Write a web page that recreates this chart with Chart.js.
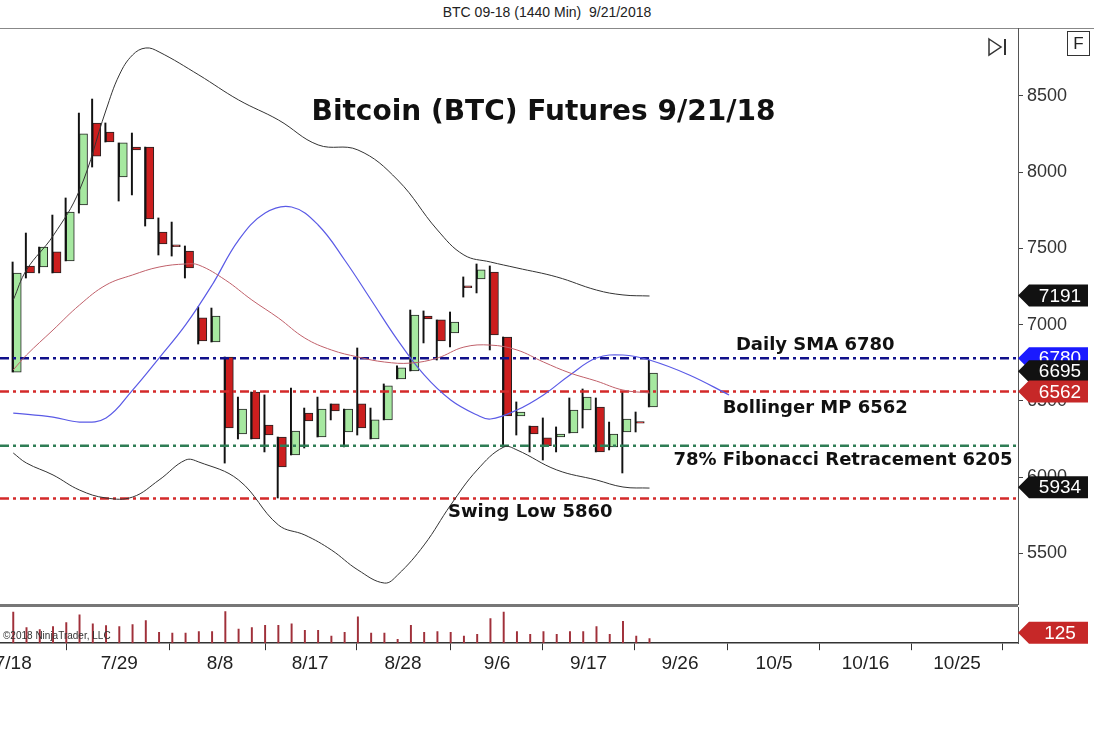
<!DOCTYPE html>
<html>
<head>
<meta charset="utf-8">
<script src="https://cdn.jsdelivr.net/npm/chart.js@4"></script>
<style>
  body { margin: 0; background: #fff; font-family: "Liberation Sans", Arial, sans-serif; }
  #wrap { position: relative; width: 1094px; height: 729px; overflow: hidden; background: #fff; }
  #title { position: absolute; left: 0; top: 4px; width: 1094px; text-align: center; font-size: 14px; color: #222; }
  #topline { position: absolute; left: 0; top: 28px; width: 1094px; height: 1px; background: #888; }
  #sep { position: absolute; left: 0; top: 604px; width: 1018px; height: 3px; background: #777; }
  #fbox { position: absolute; left: 1067px; top: 31px; width: 21px; height: 23px; border: 1px solid #333;
          font-size: 17px; text-align: center; line-height: 23px; color: #222; }
  #priceC { position: absolute; left: 0; top: 28px; }
  #volC { position: absolute; left: 0; top: 605px; }
  #icon { position: absolute; left: 987px; top: 37px; }
</style>
</head>
<body>
<div id="wrap">
  <div id="title">BTC 09-18 (1440 Min)&nbsp; 9/21/2018</div>
  <div id="topline"></div>
  <canvas id="priceC" width="1094" height="577"></canvas>
  <canvas id="volC" width="1094" height="72"></canvas>
  <div id="sep"></div>
  <div id="fbox">F</div>
  <svg id="icon" width="22" height="20"><polygon points="2,2 14,10 2,18" fill="none" stroke="#333" stroke-width="1.5"/><line x1="18" y1="2" x2="18" y2="18" stroke="#333" stroke-width="2"/></svg>
</div>
<script>
// daily candles (bar index 0 = 7/18)
let opens  = [6689,7385,7378,7477,7418,7785,8323,8264,7969,8165,8165,7608,7523,7483,7044,6886,6788,6283,6558,6342,6263,6145,6420,6263,6480,6296,6480,6250,6375,6644,6696,7057,7031,6945,7254,7300,7345,6919,6401,6335,6257,6263,6289,6440,6460,6198,6296,6365,6460];
let highs  = [7411,7601,7509,7719,7831,8388,8480,8323,8192,8257,8165,7700,7673,7516,7116,7109,6788,6525,6558,6539,6263,6584,6453,6525,6480,6447,6847,6453,6611,6730,7096,7090,7031,7083,7313,7398,7385,6919,6493,6335,6388,6329,6519,6578,6519,6361,6558,6427,6768];
let lows   = [6689,7306,7339,7339,7418,7732,8034,8198,7811,7851,7647,7457,7450,7306,6873,6886,6092,6250,6250,6165,5863,6145,6191,6263,6375,6198,6276,6250,6375,6644,6696,6880,6768,6854,7181,7208,6834,6198,6276,6165,6112,6165,6289,6322,6165,6178,6027,6296,6460];
let closes = [7339,7339,7509,7339,7739,8251,8106,8198,8192,8146,7693,7529,7516,7372,6893,7057,6322,6447,6250,6276,6066,6302,6368,6447,6434,6447,6322,6375,6598,6716,7063,7037,6893,7017,7250,7359,6932,6401,6427,6283,6204,6283,6440,6525,6165,6283,6381,6361,6683];
let volumes = [80,40,35,43,53,73,50,45,43,48,58,28,26,26,30,30,81,36,40,46,46,50,33,33,18,28,68,26,26,10,46,28,30,28,18,23,63,80,30,23,30,23,30,30,43,23,56,18,12];

// bollinger bands (bar index, price)
let upperX = [0,1,3,5,7,8,9,10,11,14,17,20,23,26,29,32,34,36,38,41,44,46,48];
let upperY = [7162,7359,7582,7883,8408,8638,8769,8815,8789,8638,8474,8343,8179,8146,7949,7621,7457,7411,7372,7313,7227,7195,7188];
let lowerX = [0,1,3,5,7,9,11,13,14,17,20,22,24,26,28,29,31,33,35,37,38,41,44,46,48];
let lowerY = [6158,6092,6014,5915,5863,5869,5981,6112,6099,5981,5686,5620,5522,5391,5305,5358,5555,5817,6047,6197,6178,6047,5981,5935,5928];
let midX = [0,1,3,5,7,9,11,13,14,16,18,20,22,24,26,28,30,32,34,36,38,40,42,44,46,48];
let midY = [6703,6801,6965,7129,7260,7326,7378,7398,7391,7293,7162,7044,6912,6834,6788,6755,6748,6781,6853,6866,6834,6755,6683,6630,6571,6552];
let blueX = [0,3,5,7,9,11,13,15,17,19,21,23,25,27,29,31,33,35,36,38,40,42,44,46,48,51,54];
let blueY = [6420,6394,6361,6388,6571,6781,6998,7260,7555,7732,7772,7654,7424,7162,6899,6670,6506,6407,6381,6440,6539,6670,6781,6801,6768,6670,6539];

let levels = [6780, 6562, 6205, 5860];
let levelColors = ["#10108a", "#d42a2a", "#2e7d55", "#d42a2a"];

let tickLabels = ["7/18","7/29","8/8","8/17","8/28","9/6","9/17","9/26","10/5","10/16","10/25"];
let tickPos = [0, 8, 15.6, 22.4, 29.4, 36.5, 43.4, 50.3, 57.4, 64.3, 71.2];
let priceTicks = [5500, 6000, 6500, 7000, 7500, 8000, 8500];

let xMin = -1, xMax = 75.8;
let font = "'Liberation Sans', Arial, sans-serif";
let boldFont = "'DejaVu Sans', Arial, sans-serif";

let notes = [
  { text: "Bitcoin (BTC) Futures 9/21/18", x: 40, y: 8390, size: 28 },
  { text: "Daily SMA 6780", x: 60.5, y: 6867, size: 18 },
  { text: "Bollinger MP 6562", x: 60.5, y: 6453, size: 18 },
  { text: "78% Fibonacci Retracement 6205", x: 62.6, y: 6112, size: 18 },
  { text: "Swing Low 5860", x: 39, y: 5771, size: 18 }
];
let flags = [
  { v: 6780, label: "6780", color: "#1a1aff" },
  { v: 6695, label: "6695", color: "#111" },
  { v: 6562, label: "6562", color: "#c62828" },
  { v: 7191, label: "7191", color: "#111" },
  { v: 5934, label: "5934", color: "#111" }
];

function pts(xs, ys) { return xs.map((x, i) => ({ x: x, y: ys[i] })); }

function drawFlag(ctx, x, y, label, color) {
  ctx.save();
  ctx.fillStyle = color;
  ctx.beginPath();
  ctx.moveTo(x, y);
  ctx.lineTo(x + 11, y - 11);
  ctx.lineTo(x + 70, y - 11);
  ctx.lineTo(x + 70, y + 11);
  ctx.lineTo(x + 11, y + 11);
  ctx.closePath();
  ctx.fill();
  ctx.fillStyle = "#fff";
  ctx.font = "19px " + font;
  ctx.textAlign = "center";
  ctx.textBaseline = "middle";
  ctx.fillText(label, x + 42, y + 1);
  ctx.restore();
}

let overlay = {
  id: "overlay",
  afterDraw(chart) {
    let ctx = chart.ctx, xs = chart.scales.x, ys = chart.scales.y;
    ctx.save();
    ctx.fillStyle = "#111";
    ctx.textAlign = "center";
    ctx.textBaseline = "middle";
    notes.forEach(n => {
      ctx.font = "bold " + n.size + "px " + boldFont;
      ctx.fillText(n.text, xs.getPixelForValue(n.x), ys.getPixelForValue(n.y));
    });
    ctx.restore();
    flags.forEach(f => drawFlag(ctx, chart.chartArea.right, ys.getPixelForValue(f.v), f.label, f.color));
  }
};

let bodyColors = opens.map((o, i) => closes[i] >= o ? "#a6e8a0" : "#cc1e1e");
let wicks = opens.map((o, i) => ({ x: i, y: [lows[i], highs[i]] }));
let bodies = opens.map((o, i) => {
  let a = o, b = closes[i];
  if (Math.abs(a - b) < 12) b = a - 12;
  return { x: i, y: [a, b] };
});

let datasets = [
  { type: "line", data: pts(upperX, upperY), borderColor: "#333", borderWidth: 1, pointRadius: 0, tension: 0.4 },
  { type: "line", data: pts(lowerX, lowerY), borderColor: "#333", borderWidth: 1, pointRadius: 0, tension: 0.4 },
  { type: "line", data: pts(midX, midY), borderColor: "#c0606a", borderWidth: 1, pointRadius: 0, tension: 0.4 },
  { type: "line", data: pts(blueX, blueY), borderColor: "#5a5ae6", borderWidth: 1.2, pointRadius: 0, tension: 0.4 }
];
levels.forEach((v, i) => datasets.push({
  type: "line", data: [{ x: xMin, y: v }, { x: xMax, y: v }], borderColor: levelColors[i],
  borderWidth: 2.5, borderDash: [9, 4, 3, 4], pointRadius: 0
}));
datasets.push({ type: "bar", data: wicks, backgroundColor: "#111", barThickness: 1.3 });
datasets.push({ type: "bar", data: bodies, backgroundColor: bodyColors, borderColor: "#222",
  borderWidth: 1, borderSkipped: false, barThickness: 8 });

new Chart(document.getElementById("priceC"), {
  data: { datasets: datasets },
  options: {
    responsive: false, animation: false,
    layout: { padding: 0 },
    plugins: { legend: { display: false }, tooltip: { enabled: false } },
    scales: {
      x: { type: "linear", min: xMin, max: xMax, display: false, grouped: false, offset: false },
      y: {
        position: "right", min: 5161, max: 8946,
        afterBuildTicks: s => { s.ticks = priceTicks.map(v => ({ value: v })); },
        afterFit: s => { s.width = 76; s.paddingTop = 0; s.paddingBottom = 0; },
        ticks: { color: "#333", font: { family: font, size: 18 }, padding: 4, callback: v => String(v) },
        grid: { drawOnChartArea: false, drawTicks: true, tickLength: 5, color: "#444" },
        border: { display: true, color: "#555" }
      }
    }
  },
  plugins: [overlay]
});

let volOverlay = {
  id: "volOverlay",
  afterDraw(chart) {
    let ctx = chart.ctx;
    ctx.save();
    ctx.fillStyle = "#333";
    ctx.font = "10px " + font;
    ctx.textBaseline = "middle";
    ctx.fillText("©2018 NinjaTrader, LLC", 3, chart.scales.y.getPixelForValue(18));
    ctx.restore();
    drawFlag(ctx, chart.chartArea.right, chart.scales.y.getPixelForValue(27), "125", "#c62828");
  }
};

new Chart(document.getElementById("volC"), {
  type: "bar",
  data: { datasets: [{ data: volumes.map((v, i) => ({ x: i, y: v })), backgroundColor: "#a0303a", barThickness: 1.3 }] },
  options: {
    responsive: false, animation: false,
    layout: { padding: { top: 2, left: 0, right: 0, bottom: 0 } },
    plugins: { legend: { display: false }, tooltip: { enabled: false } },
    scales: {
      x: {
        type: "linear", min: xMin, max: xMax, offset: false,
        afterBuildTicks: s => { s.ticks = tickPos.map(v => ({ value: v })); },
        afterFit: s => { s.paddingLeft = 0; s.paddingRight = 0; },
        ticks: { autoSkip: false, maxRotation: 0, color: "#222", font: { family: font, size: 19 }, padding: 2,
                 callback: (v, i) => tickLabels[i] },
        grid: { drawOnChartArea: false, drawTicks: true, tickLength: 7, color: "#333" },
        border: { display: true, color: "#333", width: 1.5 }
      },
      y: {
        position: "right", min: 0, max: 93,
        afterFit: s => { s.width = 76; },
        ticks: { display: false },
        grid: { display: false },
        border: { display: true, color: "#555" }
      }
    }
  },
  plugins: [volOverlay]
});
</script>
</body>
</html>
